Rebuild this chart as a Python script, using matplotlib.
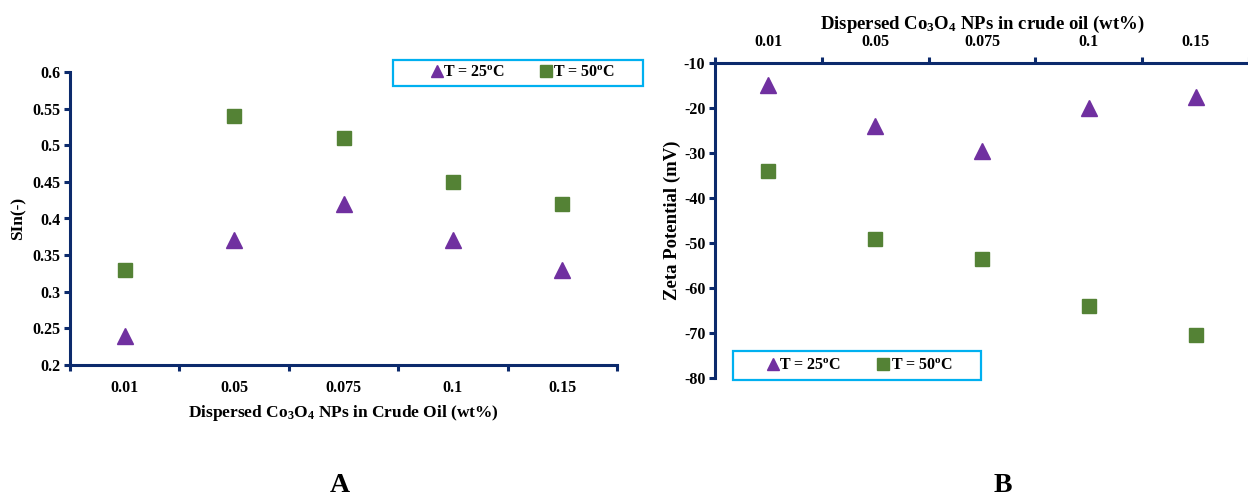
import matplotlib
matplotlib.use("Agg")
import matplotlib.pyplot as plt
from matplotlib.patches import Rectangle
from matplotlib.lines import Line2D
import numpy as np

plt.rcParams['font.family'] = ['Liberation Serif', 'DejaVu Serif']
plt.rcParams['font.weight'] = 'bold'
plt.rcParams['mathtext.fontset'] = 'custom'
plt.rcParams['mathtext.rm'] = 'Liberation Serif:bold'
plt.rcParams['mathtext.it'] = 'Liberation Serif:bold:italic'
plt.rcParams['mathtext.bf'] = 'Liberation Serif:bold'
plt.rcParams['mathtext.default'] = 'rm'
plt.rcParams['axes.unicode_minus'] = False

categories = ["0.01", "0.05", "0.075", "0.1", "0.15"]
sin_25 = [0.24, 0.37, 0.42, 0.37, 0.33]
sin_50 = [0.33, 0.54, 0.51, 0.45, 0.42]
zeta_25 = [-15, -24, -29.5, -20, -17.5]
zeta_50 = [-34, -49, -53.5, -64, -70.5]
legend_labels = ["T = 25$^{o}$C", "T = 50$^{o}$C"]

PURPLE = '#7030a0'
GREEN = '#548235'
NAVY = '#0c2a6c'
CYAN = '#00b0f0'

W, H = 1248, 498
fig = plt.figure(figsize=(W / 100, H / 100), dpi=100)

def fx(px):
    return px / W

def fy(py):
    return 1 - py / H

x = np.arange(len(categories))

def style_axis(ax, top=False):
    for s in ['top', 'right', 'bottom', 'left']:
        ax.spines[s].set_visible(False)
    ax.spines['left'].set_visible(True)
    ax.spines['left'].set_color(NAVY)
    ax.spines['left'].set_linewidth(2.2)
    xs = 'top' if top else 'bottom'
    ax.spines[xs].set_visible(True)
    ax.spines[xs].set_color(NAVY)
    ax.spines[xs].set_linewidth(2.2)
    ax.set_xlim(-0.5, len(categories) - 0.5)
    ax.set_xticks(np.arange(-0.5, len(categories), 1.0))
    ax.set_xticklabels([])
    ax.set_xticks(x, minor=True)
    ax.set_xticklabels(categories, minor=True, fontsize=11.5, fontweight='bold')
    ax.tick_params(axis='x', which='major', direction='out', length=4, width=2.2, color=NAVY)
    ax.tick_params(axis='x', which='minor', length=0, pad=11)
    ax.tick_params(axis='y', direction='out', length=4, width=2.2, color=NAVY, labelsize=11.5, pad=3)
    for lab in ax.get_yticklabels():
        lab.set_fontweight('bold')
    if top:
        ax.xaxis.set_ticks_position('top')
        ax.xaxis.set_label_position('top')

# Panel A
axA = fig.add_axes([fx(70), fy(365), fx(617 - 70), (365 - 72) / H])
axA.plot(x, sin_25, linestyle='none', marker='^', markersize=12, color=PURPLE, clip_on=False)
axA.plot(x, sin_50, linestyle='none', marker='s', markersize=10.5, color=GREEN, clip_on=False)
axA.set_ylim(0.2, 0.6)
axA.set_yticks([0.2, 0.25, 0.3, 0.35, 0.4, 0.45, 0.5, 0.55, 0.6])
axA.set_yticklabels(['0.2', '0.25', '0.3', '0.35', '0.4', '0.45', '0.5', '0.55', '0.6'])
style_axis(axA, top=False)
axA.set_xlabel('Dispersed Co$_3$O$_4$ NPs in Crude Oil (wt%)', fontsize=12.5, fontweight='bold', labelpad=5)
axA.set_ylabel('SIn(-)', fontsize=12.5, fontweight='bold', labelpad=4)

# Panel B
axB = fig.add_axes([fx(715), fy(378), fx(1249 - 715), (378 - 63) / H])
axB.plot(x, zeta_25, linestyle='none', marker='^', markersize=12, color=PURPLE, clip_on=False)
axB.plot(x, zeta_50, linestyle='none', marker='s', markersize=10.5, color=GREEN, clip_on=False)
axB.set_ylim(-80, -10)
axB.set_yticks(np.arange(-80, -9, 10))
style_axis(axB, top=True)
axB.tick_params(axis='x', which='minor', pad=9)
axB.set_xlabel('Dispersed Co$_3$O$_4$ NPs in crude oil (wt%)', fontsize=13.5, fontweight='bold', labelpad=4)
axB.set_ylabel('Zeta Potential (mV)', fontsize=13.5, fontweight='bold', labelpad=2)

# Legends (boxed, manually laid out)
def boxed_legend(x0, y0, x1, y1, tri_x, txt1_x, sq_x, txt2_x):
    fig.patches.append(Rectangle((fx(x0), fy(y1)), fx(x1 - x0), (y1 - y0) / H,
                                 transform=fig.transFigure, fill=False,
                                 edgecolor=CYAN, linewidth=1.6))
    yc = (y0 + y1) / 2
    fig.add_artist(Line2D([fx(tri_x)], [fy(yc - 2)], transform=fig.transFigure,
                          linestyle='none', marker='^', markersize=9, color=PURPLE))
    fig.add_artist(Line2D([fx(sq_x)], [fy(yc - 1.5)], transform=fig.transFigure,
                          linestyle='none', marker='s', markersize=8, color=GREEN))
    fig.text(fx(txt1_x), fy(yc), legend_labels[0], fontsize=11.5, fontweight='bold',
             ha='left', va='center')
    fig.text(fx(txt2_x), fy(yc), legend_labels[1], fontsize=11.5, fontweight='bold',
             ha='left', va='center')

boxed_legend(393, 60, 643, 86, 437, 443, 546, 553)
boxed_legend(733, 351, 981, 380, 773, 779, 883, 891)

fig.text(fx(340), fy(485), 'A', fontsize=20, fontweight='bold', ha='center', va='center')
fig.text(fx(1003), fy(485), 'B', fontsize=20, fontweight='bold', ha='center', va='center')

fig.savefig('out.png', dpi=100)
